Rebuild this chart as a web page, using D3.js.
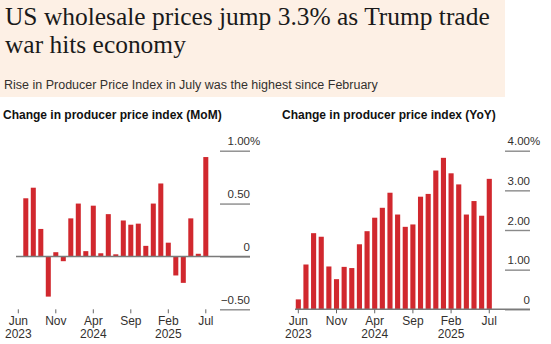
<!DOCTYPE html>
<html>
<head>
<meta charset="utf-8">
<script src="https://cdn.jsdelivr.net/npm/d3@7"></script>
<style>
  html, body { margin: 0; padding: 0; background: #fff; }
  svg { display: block; }
  text { font-family: "Liberation Sans", Arial, sans-serif; }
</style>
</head>
<body>
<div id="chart"></div>
<script>
// ---- data ----
const months = ["2023-06","2023-07","2023-08","2023-09","2023-10","2023-11","2023-12",
  "2024-01","2024-02","2024-03","2024-04","2024-05","2024-06","2024-07","2024-08","2024-09","2024-10","2024-11","2024-12",
  "2025-01","2025-02","2025-03","2025-04","2025-05","2025-06","2025-07"];
const momValues = [0, 0.55, 0.65, 0.26, -0.38, 0.04, -0.045, 0.36, 0.50, 0.05, 0.48, 0.03, 0.40, 0.02,
  0.34, 0.30, 0.31, 0.10, 0.50, 0.69, 0.13, -0.18, -0.25, 0.36, 0.025, 0.94];
const yoyValues = [0.25, 1.13, 1.92, 1.83, 1.08, 0.76, 1.07, 1.04, 1.64, 1.97, 2.31, 2.56, 2.94, 2.39,
  2.08, 2.14, 2.84, 2.91, 3.50, 3.82, 3.43, 3.15, 2.39, 2.73, 2.36, 3.29];
const tickMonths = ["2023-06","2023-11","2024-04","2024-09","2025-02","2025-07"];
const tickLabels = { "2023-06": ["Jun","2023"], "2023-11": ["Nov"], "2024-04": ["Apr","2024"],
  "2024-09": ["Sep"], "2025-02": ["Feb","2025"], "2025-07": ["Jul"] };
const momTicks = [-0.5, 0, 0.5, 1.0];
const yoyTicks = [0, 1, 2, 3, 4];

const W = 551, H = 344;
const red = "#d1282e";

const svg = d3.select("#chart").append("svg").attr("width", W).attr("height", H);

// ---- header ----
svg.append("rect").attr("x", 0).attr("y", 0).attr("width", 505).attr("height", 97).attr("fill", "#fdf0e5");

const serif = "'Liberation Serif', 'Times New Roman', serif";
const t1 = svg.append("text").attr("x", 5).attr("y", 25)
  .style("font-family", serif).attr("font-size", 28).attr("fill", "#1a1a1a")
  .text("US wholesale prices jump 3.3% as Trump trade");
// size the headline so the first line spans the same width as the original
const fs = 28 * 485 / t1.node().getComputedTextLength();
t1.attr("font-size", fs);
svg.append("text").attr("x", 5).attr("y", 53)
  .style("font-family", serif).attr("font-size", fs).attr("fill", "#1a1a1a")
  .text("war hits economy");

svg.append("text").attr("x", 4).attr("y", 89)
  .attr("font-size", 12.5).attr("fill", "#33302e")
  .text("Rise in Producer Price Index in July was the highest since February");

// ---- panels ----
function panel(opts) {
  const g = svg.append("g");

  g.append("text").attr("x", opts.titleX).attr("y", 119)
    .attr("font-size", 12).attr("font-weight", "bold").attr("fill", "#111")
    .text(opts.title);

  const x = d3.scaleBand().domain(months).range(opts.xRange)
    .paddingInner(0.33).paddingOuter(0.165);
  const y = d3.scaleLinear().domain(opts.yDomain).range([309.3, 150.7]);

  // gridlines + labels
  const yAxis = g.append("g")
    .attr("transform", `translate(${opts.gridX0},0)`)
    .call(d3.axisRight(y).tickValues(opts.yTicks).tickSize(opts.gridX1 - opts.gridX0).tickFormat(opts.fmt));
  yAxis.select(".domain").remove();
  yAxis.selectAll(".tick line").attr("stroke", "#8a8a8a").attr("stroke-width", 1.4);
  yAxis.selectAll(".tick text")
    .attr("x", opts.gridX1 - opts.gridX0).attr("dy", -6).attr("text-anchor", "end")
    .attr("font-size", 11.5).attr("fill", "#33302e").style("font-family", "'Liberation Sans', Arial, sans-serif");
  // "%" hangs past the label column on the top tick
  const top = opts.yTicks[opts.yTicks.length - 1];
  g.append("text").attr("x", opts.gridX1).attr("y", y(top) - 6)
    .attr("font-size", 11.5).attr("fill", "#33302e").text("%");

  // bars
  g.selectAll("rect.bar").data(months.map((m, i) => ({ m, v: opts.values[i] })))
    .join("rect").attr("class", "bar")
    .attr("x", d => x(d.m))
    .attr("width", x.bandwidth())
    .attr("y", d => y(Math.max(0, d.v)))
    .attr("height", d => Math.abs(y(d.v) - y(0)))
    .attr("fill", red);

  // zero line
  g.append("line").attr("x1", opts.zeroX0).attr("x2", opts.gridX1)
    .attr("y1", y(0)).attr("y2", y(0)).attr("stroke", "#7a7a7a").attr("stroke-width", 1.4);

  // x axis ticks
  const xAxis = g.append("g").attr("transform", "translate(0,309.3)")
    .call(d3.axisBottom(x).tickValues(tickMonths).tickSize(4).tickFormat(""));
  xAxis.select(".domain").remove();
  xAxis.selectAll(".tick line").attr("stroke", "#666").attr("stroke-width", 1);
  xAxis.selectAll(".tick").each(function (m) {
    tickLabels[m].forEach((s, k) => {
      d3.select(this).append("text")
        .attr("x", 0).attr("y", 16 + k * 12.5)
        .attr("text-anchor", "middle").attr("font-size", 12).attr("fill", "#33302e")
        .style("font-family", "'Liberation Sans', Arial, sans-serif")
        .text(s);
    });
  });
}

panel({
  title: "Change in producer price index (MoM)", titleX: 3,
  values: momValues, xRange: [14.55, 209.55], yDomain: [-0.5, 1.0], yTicks: momTicks,
  gridX0: 220, gridX1: 250, zeroX0: 16,
  fmt: d => d === 0 ? "0" : d3.format(".2f")(d)
});

panel({
  title: "Change in producer price index (YoY)", titleX: 282,
  values: yoyValues, xRange: [294.5, 493.1], yDomain: [0, 4], yTicks: yoyTicks,
  gridX0: 505, gridX1: 530, zeroX0: 295,
  fmt: d => d === 0 ? "0" : d3.format(".2f")(d)
});
</script>
</body>
</html>
